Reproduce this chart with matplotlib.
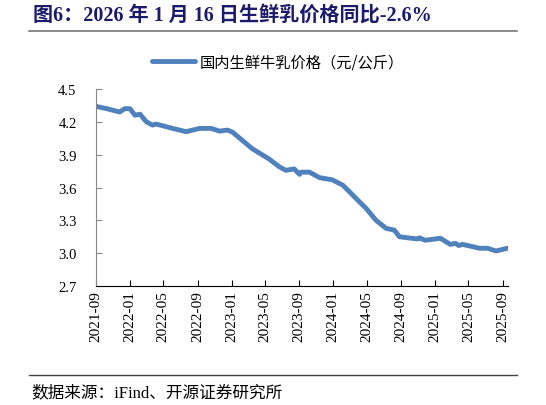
import numpy as np
import pandas as pd
import matplotlib
matplotlib.use("Agg")
import matplotlib.pyplot as plt
import matplotlib.dates as mdates

plt.rcParams['font.family'] = ['Liberation Serif', 'Noto Sans CJK SC']

# milk price readings (yuan/kg)
dates = ["2021-09-03", "2021-10-10", "2021-11-25", "2021-12-13", "2022-01-01", "2022-01-19",
         "2022-02-06", "2022-03-01", "2022-03-23", "2022-04-05", "2022-06-03", "2022-07-22",
         "2022-09-08", "2022-10-20", "2022-11-19", "2022-12-17", "2023-01-05", "2023-03-16",
         "2023-05-16", "2023-06-21", "2023-07-15", "2023-08-14", "2023-09-02", "2023-09-08",
         "2023-10-08", "2023-11-13", "2023-12-29", "2024-02-05", "2024-02-29", "2024-03-29",
         "2024-04-28", "2024-06-03", "2024-07-09", "2024-08-08", "2024-08-26", "2024-09-25",
         "2024-10-30", "2024-11-06", "2024-11-26", "2025-01-20", "2025-02-25", "2025-03-15",
         "2025-03-27", "2025-04-10", "2025-05-15", "2025-06-09", "2025-07-08", "2025-08-08",
         "2025-09-18"]
prices = [4.34, 4.32, 4.29, 4.32, 4.32, 4.26, 4.27, 4.20, 4.17, 4.18, 4.14, 4.11,
          4.14, 4.14, 4.115, 4.125, 4.105, 3.955, 3.86, 3.79, 3.757, 3.77, 3.72, 3.74,
          3.74, 3.69, 3.67, 3.62, 3.56, 3.485, 3.41, 3.30, 3.227, 3.21, 3.15, 3.14,
          3.13, 3.14, 3.118, 3.136, 3.08, 3.09, 3.07, 3.08, 3.06, 3.045, 3.045, 3.02,
          3.045]
tick_dates = ["2021-09", "2022-01", "2022-05", "2022-09", "2023-01", "2023-05", "2023-09",
              "2024-01", "2024-05", "2024-09", "2025-01", "2025-05", "2025-09"]
y_ticks = [2.7, 3.0, 3.3, 3.6, 3.9, 4.2, 4.5]

x = pd.to_datetime(dates)

fig = plt.figure(figsize=(5.46, 4.06), dpi=100)
ax = fig.add_axes([96/546, 1-287/406, (508-96)/546, (287-90)/406])

line, = ax.plot(x, prices, color='#4f81bd', lw=3.5, solid_capstyle='round',
                solid_joinstyle='round', label='国内生鲜牛乳价格（元/公斤）')

ax.set_xlim(pd.Timestamp("2021-09-01"), pd.Timestamp("2025-09-20"))
ax.set_ylim(2.7, 4.5)
ax.set_yticks(y_ticks)
ax.set_yticklabels([f"{v:.1f}" for v in y_ticks], fontsize=10.5)
ax.set_xticks(pd.to_datetime([d + "-01" for d in tick_dates]))
ax.xaxis.set_major_formatter(mdates.DateFormatter("%Y-%m"))
plt.setp(ax.get_xticklabels(), rotation=90, fontsize=11)

for s in ['top', 'right']:
    ax.spines[s].set_visible(False)
ax.spines['left'].set_color('#868686')
ax.spines['bottom'].set_color('black')
ax.tick_params(axis='y', direction='in', length=4, color='#868686', pad=14)
ax.tick_params(axis='x', direction='in', length=4, color='black', pad=3)

fig.legend(handles=[line], loc='center', bbox_to_anchor=(278/546, 1-63/406),
           frameon=False, prop={'family': ['Noto Sans CJK SC'], 'size': 11},
           handlelength=2.8, handletextpad=0.3)

fig.text(33/546, 1-16/406, "图6：2026 年 1 月 16 日生鲜乳价格同比-2.6%",
         fontsize=14.5, fontweight='bold', color='#1b1a6b', va='center', ha='left')
fig.add_artist(plt.Line2D([29/546, 517/546], [1-32/406, 1-32/406], color='#777777', lw=1.2))
fig.add_artist(plt.Line2D([29/546, 517/546], [1-376/406, 1-376/406], color='#444444', lw=1.0))
fig.text(31/546, 1-393/406, "数据来源：iFind、开源证券研究所", fontsize=12,
         color='black', va='center', ha='left')

fig.savefig("out.png", dpi=100)
